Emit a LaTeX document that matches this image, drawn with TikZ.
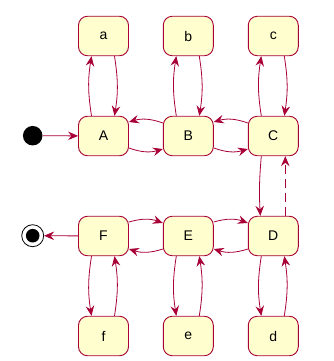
\documentclass[tikz,border=0pt]{standalone}
\usepackage{fontspec}
\setmainfont{Liberation Sans}
\usetikzlibrary{arrows.meta}
\definecolor{umlred}{HTML}{A80036}
\definecolor{umlfill}{HTML}{FEFECE}
\begin{document}
\begin{tikzpicture}[x=1pt, y=-1pt,
  statebox/.style={draw=umlred, fill=umlfill, line width=0.9pt, rounded corners=9pt,
    minimum width=50pt, minimum height=39.5pt, inner sep=0pt, font=\fontsize{14}{16}\selectfont},
  trans/.style={draw=umlred, line width=0.8pt, -{Stealth[length=10pt, width=8.5pt, inset=3.5pt]}}]
  \useasboundingbox (0,0) rectangle (334,361);

  % top row
  \node[statebox] (a) at (103.5,36) {a};
  \node[statebox] (b) at (188.3,36) {b};
  \node[statebox] (c) at (273.3,36) {c};
  % upper main row
  \node[statebox] (A) at (103.5,136) {A};
  \node[statebox] (B) at (188.3,136) {B};
  \node[statebox] (C) at (273.3,136) {C};
  % lower main row
  \node[statebox] (F) at (103.5,236) {F};
  \node[statebox] (E) at (188.3,236) {E};
  \node[statebox] (D) at (273.3,236) {D};
  % bottom row
  \node[statebox] (f) at (103.5,336) {f};
  \node[statebox] (e) at (188.3,336) {e};
  \node[statebox] (d) at (273.3,336) {d};

  \node[circle, fill=black, minimum size=19.5pt, inner sep=0pt] (init) at (32.7,135.7) {};
  \node[circle, draw=black, line width=0.8pt, fill=white, minimum size=22pt, inner sep=0pt] (final) at (32.7,235.7) {};
  \fill (final) circle (6.8pt);

  \draw[trans] (init) -- (A);
  \draw[trans] (F) -- (final);

  % up and down between rows
  \foreach \lo/\hi in {A/a, B/b, C/c} {
    \draw[trans] ([xshift=-12pt]\lo.north) to[bend left=9] ([xshift=-12pt]\hi.south);
    \draw[trans] ([xshift=11pt]\hi.south) to[bend left=9] ([xshift=11pt]\lo.north);
  }
  \foreach \hi/\lo in {F/f, E/e, D/d} {
    \draw[trans] ([xshift=-12pt]\hi.south) to[bend right=9] ([xshift=-12pt]\lo.north);
    \draw[trans] ([xshift=11pt]\lo.north) to[bend right=9] ([xshift=11pt]\hi.south);
  }

  % along the rows
  \foreach \l/\r in {A/B, B/C} {
    \draw[trans] ([yshift=-12pt]\l.east) to[bend right=18] ([yshift=-13pt]\r.west);
    \draw[trans] ([yshift=13pt]\r.west) to[bend right=18] ([yshift=14pt]\l.east);
  }
  \foreach \l/\r in {F/E, E/D} {
    \draw[trans] ([yshift=14pt]\l.east) to[bend left=18] ([yshift=13pt]\r.west);
    \draw[trans] ([yshift=-13pt]\r.west) to[bend left=18] ([yshift=-13pt]\l.east);
  }

  \draw[trans] ([xshift=-12pt]C.south) to[bend right=4] ([xshift=-13pt]D.north);
  \draw[trans, dashed, dash pattern=on 9pt off 5pt] ([xshift=12pt]D.north) -- ([xshift=12pt]C.south);
\end{tikzpicture}
\end{document}
